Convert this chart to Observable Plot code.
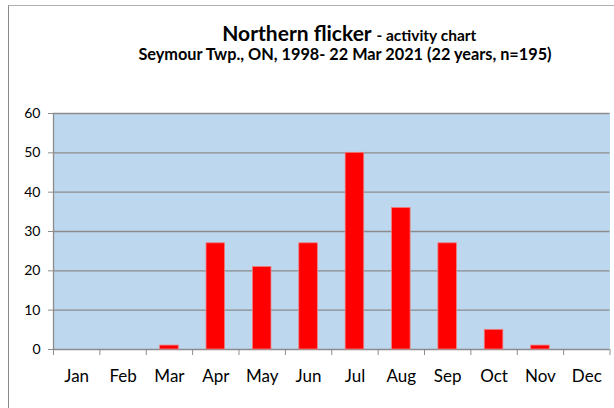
<!DOCTYPE html>
<html><head><meta charset="utf-8">
<script src="https://cdn.jsdelivr.net/npm/d3@7"></script>
<script src="https://cdn.jsdelivr.net/npm/@observablehq/plot@0.6"></script>
<style>
body{margin:0;background:#fff;}
#wrap{position:relative;width:614px;height:408px;overflow:hidden;font-family:Lato,"Open Sans",sans-serif;}
#border{position:absolute;left:8px;top:5px;width:620px;height:420px;border-left:1.5px solid #8a8a8a;border-top:1.5px solid #b0b0b0;}
.t{position:absolute;left:0;text-align:center;font-weight:bold;color:#000;white-space:nowrap;line-height:1;}
#chart{position:absolute;left:0;top:0;}
</style></head><body>
<div id="wrap">
<div id="border"></div>
<div class="t" id="title" style="top:22.4px;font-size:21px;padding-left:84.6px;width:529.4px;">Northern flicker <span style="font-size:15.5px">- activity chart</span></div>
<div class="t" id="sub" style="top:46.2px;font-size:16.3px;padding-left:76px;width:538px;">Seymour Twp., ON, 1998- 22 Mar 2021 (22 years, n=195)</div>
<div id="chart"></div>
</div>
<script>
const months = ["Jan","Feb","Mar","Apr","May","Jun","Jul","Aug","Sep","Oct","Nov","Dec"];
const counts = [0,0,1,27,21,27,50,36,27,5,1,0];
const yTicks = [0,10,20,30,40,50,60];

const data = months.map((m,i)=>({i, m, v: counts[i]}));

const plot = Plot.plot({
  width: 614,
  height: 408,
  marginLeft: 53,
  marginRight: 4.5,
  marginTop: 113,
  marginBottom: 59,
  style: {fontFamily: "Lato, 'Open Sans', sans-serif", background: "transparent", overflow: "visible"},
  x: {type: "linear", domain: [0, 12], axis: null},
  y: {domain: [0, 60], axis: null},
  marks: [
    Plot.frame({fill: "#bdd7ee", stroke: null}),
    Plot.ruleY(yTicks, {stroke: "#8c8c8c", strokeWidth: 1.3}),
    Plot.rectY(data, {x1: d => d.i, x2: d => d.i + 1, y: "v", fill: "#ff0000", stroke: "#f08080", strokeWidth: 0.8, insetLeft: 13.9, insetRight: 13.9}),
    Plot.ruleX([0], {stroke: "#8c8c8c", strokeWidth: 1.3}),
    Plot.axisY({ticks: yTicks, label: null, tickSize: 5, tickPadding: 8, fontSize: 14, stroke: "#8c8c8c", color: "#000"}),
    Plot.axisX({ticks: d3.range(13), label: null, tickSize: 6, tickFormat: () => "", stroke: "#8c8c8c"}),
    Plot.axisX({ticks: d3.range(0.5, 12, 1), label: null, tickSize: 0, tickPadding: 20, fontSize: 17, tickFormat: d => months[Math.floor(d)], color: "#000"})
  ]
});
document.getElementById("chart").appendChild(plot);
</script>
</body></html>
